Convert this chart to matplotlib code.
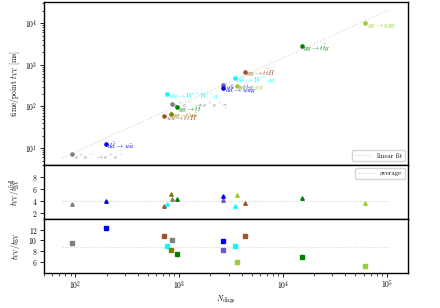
#!/usr/bin/env python3
"""VV timing vs number of diagrams: time/point, plus two timing-ratio panels."""
import matplotlib
matplotlib.use("Agg")
import matplotlib.pyplot as plt
import numpy as np

plt.rcParams.update({
    "font.family": "serif",
    "font.serif": ["cmr10", "DejaVu Serif"],
    "mathtext.fontset": "cm",
    "axes.formatter.use_mathtext": True,
    "axes.unicode_minus": False,
    "font.size": 5.5,
    "axes.labelsize": 5.5,
    "xtick.labelsize": 5.5,
    "ytick.labelsize": 5.5,
    "axes.linewidth": 1.0,
})

# processes
labels = [
    r"$e^+e^-\to e^+e^-$", r"$d\bar{d}\to u\bar{u}$", r"$u\bar{u}\to t\bar{t}H$",
    r"$u\bar{u}\to W^+W^-g$", r"$gg\to u\bar{u}$", r"$e^+e^-\to e^+e^-\gamma$",
    r"$gg\to t\bar{t}$", r"$u\bar{u}\to t\bar{t}g$", r"$d\bar{d}\to u\bar{u}g$",
    r"$d\bar{d}\to W^+gg$", r"$gg\to gg$", r"$gg\to t\bar{t}H$",
    r"$gg\to t\bar{t}g$", r"$gg\to ggg$",
]
colors = [
    "grey", "blue", "sienna", "cyan", "olive", "grey", "green", "slateblue",
    "blue", "cyan", "yellowgreen", "sienna", "green", "yellowgreen",
]
n_diags = [94, 198, 721, 759, 829, 848, 946, 2668, 2668, 3428, 3606, 4300, 15280, 62200]
t_vv = [7.0, 12.7, 59, 196, 66, 116, 98, 330, 274, 470, 317, 684, 2775, 9890]
ratio_full = [3.38, 4.0, 3.1, 3.43, 5.1, 4.33, 4.33, 4.1, 4.72, 3.17, 4.93, 3.55, 4.38, 3.67]
ratio_bv = [9.53, 12.25, 10.73, 8.98, 8.25, 10.07, 7.53, 8.18, 9.9, 9.04, 5.95, 10.8, 6.85, 5.35]

N = np.array(n_diags, float)
t = np.array(t_vv, float)

fig, (ax, ax2, ax3) = plt.subplots(
    3, 1, sharex=True, figsize=(4.4, 3.08), dpi=100,
    gridspec_kw=dict(height_ratios=[3, 1, 1], hspace=0),
)
fig.subplots_adjust(left=0.1, right=0.927, top=0.993, bottom=0.114)

xs = np.array([0.8 * N.min(), 1.7 * N.max()])
slope, icpt = np.polyfit(np.log10(N), np.log10(t), 1)
ax.plot(xs, 10 ** (icpt + slope * np.log10(xs)), ":", color="lightgrey", lw=0.8,
        label="linear fit", zorder=1)
for x, y, c, lab in zip(N, t, colors, labels):
    ax.plot(x, y, "o", color=c, ms=2.3, zorder=3)
    ax.annotate(lab, (x, y), xytext=(1.0, -1.6), textcoords="offset points",
                ha="left", va="center", color=c, fontsize=5.2)
ax.set_xscale("log"); ax.set_yscale("log")
ax.set_ylim(4, 3.2e4)
ax.set_ylabel(r"time/point $t_{\rm VV}$ [ms]", labelpad=2)
ax.legend(loc="lower right", fontsize=4.8, handlelength=2.5, borderpad=0.4)

ax2.plot(xs, [np.mean(ratio_full)] * 2, ":", color="lightgrey", lw=0.8, label="average")
for x, y, c in zip(N, ratio_full, colors):
    ax2.plot(x, y, "^", color=c, ms=2.5)
ax2.set_ylim(1, 10)
ax2.set_yticks([2, 4, 6, 8])
ax2.set_ylabel(r"$t_{\rm VV}/t_{\rm BV}^{\rm full}$", labelpad=2)
ax2.legend(loc="upper right", fontsize=4.8, handlelength=2.5, borderpad=0.4)

ax3.plot(xs, [np.mean(ratio_bv)] * 2, ":", color="lightgrey", lw=0.8)
for x, y, c in zip(N, ratio_bv, colors):
    ax3.plot(x, y, "s", color=c, ms=2.3)
ax3.set_ylim(4, 14)
ax3.set_yticks([6, 8, 10, 12])
ax3.set_ylabel(r"$t_{\rm VV}/t_{\rm BV}$", labelpad=2)
ax3.set_xlim(50, 1.6e5)
ax3.set_xlabel(r"$N_{\rm diags}$", labelpad=1)

for a in (ax, ax2, ax3):
    a.tick_params(which="major", length=3, width=0.6, pad=1.5)
    a.tick_params(which="minor", length=1.8, width=0.5)
fig.align_ylabels([ax, ax2, ax3])

fig.savefig("out.png", dpi=100)
